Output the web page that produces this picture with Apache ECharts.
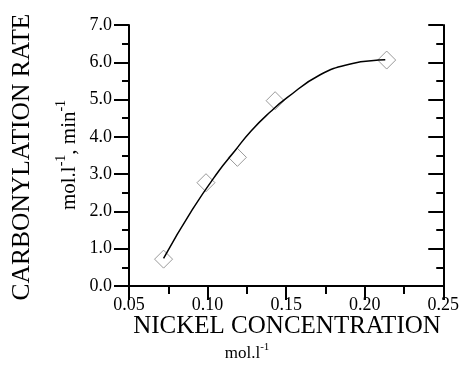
<!DOCTYPE html>
<html>
<head>
<meta charset="utf-8">
<script src="https://cdn.jsdelivr.net/npm/echarts@6/dist/echarts.min.js"></script>
<style>
  html, body { margin: 0; padding: 0; background: #fff; }
  #chart { width: 462px; height: 366px; }
</style>
</head>
<body>
<div id="chart"></div>
<script>
// measured points (diamonds)
const nickelConc = [0.072, 0.099, 0.119, 0.143, 0.214]
const carbonylRate = [0.72, 2.77, 3.45, 4.97, 6.06]

// fitted curve
const fitConc = [0.072, 0.0902, 0.1069, 0.1173, 0.1277, 0.1402, 0.1506, 0.1714, 0.1923, 0.2089, 0.2131]
const fitRate = [0.74, 2.04, 3.07, 3.62, 4.16, 4.68, 5.05, 5.66, 5.97, 6.06, 6.07]

const FONT = 'Liberation Serif'
const black = '#000'

const chart = echarts.init(document.getElementById('chart'))

const lineStyle = { color: black, width: 2 }

chart.setOption({
  animation: false,
  grid: { left: 129, right: 14, top: 25, bottom: 80 },
  xAxis: [
    {
      type: 'value',
      position: 'bottom',
      min: 0.05,
      max: 0.25,
      interval: 0.05,
      axisLine: { show: true, lineStyle: lineStyle },
      axisTick: { show: true, inside: false, length: 8, lineStyle: lineStyle },
      minorTick: { show: true, splitNumber: 2, length: 8, lineStyle: lineStyle },
      splitLine: { show: false },
      axisLabel: {
        margin: 10,
        color: black,
        fontFamily: FONT,
        fontSize: 18,
        formatter: v => v.toFixed(2)
      }
    },
    {
      type: 'value',
      position: 'top',
      min: 0.05,
      max: 0.25,
      interval: 0.05,
      axisLine: { show: true, lineStyle: lineStyle },
      axisTick: { show: true, inside: true, length: 14, lineStyle: lineStyle },
      splitLine: { show: false },
      axisLabel: { show: false }
    }
  ],
  yAxis: [
    {
      type: 'value',
      position: 'left',
      min: 0,
      max: 7,
      interval: 1,
      axisLine: { show: true, lineStyle: lineStyle },
      axisTick: { show: true, inside: false, length: 15, lineStyle: lineStyle },
      minorTick: { show: true, splitNumber: 2, length: 7, lineStyle: lineStyle },
      splitLine: { show: false },
      axisLabel: {
        margin: 17,
        color: black,
        fontFamily: FONT,
        fontSize: 18,
        formatter: v => v.toFixed(1)
      }
    },
    {
      type: 'value',
      position: 'right',
      min: 0,
      max: 7,
      interval: 1,
      axisLine: { show: true, lineStyle: lineStyle },
      axisTick: { show: true, inside: true, length: 15, lineStyle: lineStyle },
      minorTick: { show: true, splitNumber: 2, length: 7, lineStyle: lineStyle },
      splitLine: { show: false },
      axisLabel: { show: false }
    }
  ],
  series: [
    {
      name: 'fit',
      type: 'line',
      smooth: 0.5,
      showSymbol: false,
      lineStyle: { color: black, width: 1.5 },
      data: fitConc.map((x, i) => [x, fitRate[i]])
    },
    {
      name: 'rate',
      type: 'scatter',
      symbol: 'diamond',
      symbolSize: 18,
      itemStyle: { color: 'transparent', borderColor: '#808080', borderWidth: 1 },
      data: nickelConc.map((x, i) => [x, carbonylRate[i]])
    }
  ],
  graphic: [
    {
      type: 'text',
      x: 22, y: 157,
      rotation: Math.PI / 2,
      style: {
        text: 'CARBONYLATION RATE',
        fontFamily: FONT, fontSize: 25.5, fill: black,
        align: 'center', verticalAlign: 'middle'
      }
    },
    {
      type: 'text',
      x: 67, y: 155,
      rotation: Math.PI / 2,
      style: {
        text: '{m|mol.l}{s|-1}{m|, min}{s|-1}',
        align: 'center', verticalAlign: 'middle',
        rich: {
          m: { fontFamily: FONT, fontSize: 21, lineHeight: 25, fill: black, verticalAlign: 'bottom' },
          s: { fontFamily: FONT, fontSize: 14, lineHeight: 13, fill: black, verticalAlign: 'top' }
        }
      }
    },
    {
      type: 'text',
      x: 287, y: 326,
      style: {
        text: 'NICKEL CONCENTRATION',
        fontFamily: FONT, fontSize: 25, fill: black,
        align: 'center', verticalAlign: 'middle'
      }
    },
    {
      type: 'text',
      x: 247, y: 352,
      style: {
        text: '{m|mol.l}{s|-1}',
        align: 'center', verticalAlign: 'middle',
        rich: {
          m: { fontFamily: FONT, fontSize: 17, lineHeight: 20, fill: black, verticalAlign: 'bottom' },
          s: { fontFamily: FONT, fontSize: 11, lineHeight: 10, fill: black, verticalAlign: 'top' }
        }
      }
    }
  ]
})
</script>
</body>
</html>
